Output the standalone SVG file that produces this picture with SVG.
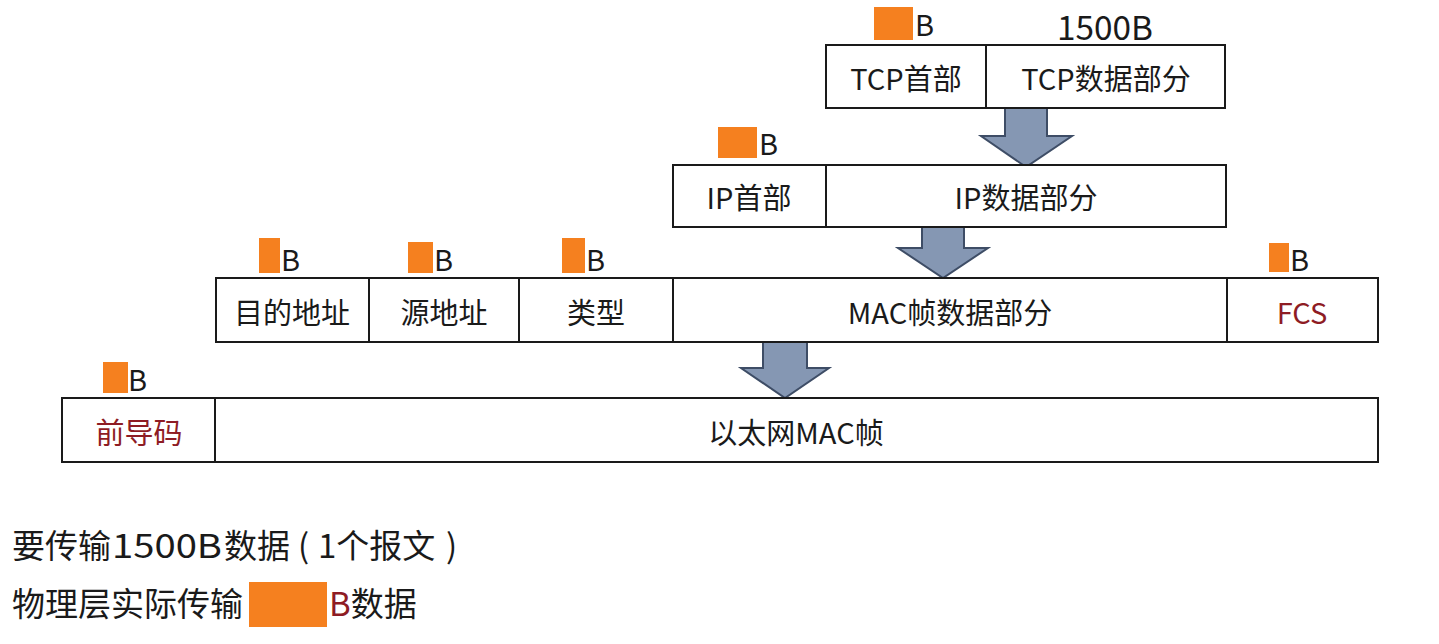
<svg xmlns="http://www.w3.org/2000/svg" width="1439" height="644" viewBox="0 0 1439 644">
<style>
.box{fill:#fff;stroke:#1a1a1a;stroke-width:2}
.div{stroke:#1a1a1a;stroke-width:2}
.t{font-family:"Noto Sans CJK SC","Noto Sans",sans-serif;font-size:29px;fill:#1a1a1a;text-anchor:middle;dominant-baseline:central}
.r{fill:#8e1c24}
.o{fill:#f5801f}
.b{font-family:"Noto Sans CJK SC","Noto Sans",sans-serif;font-size:29px;fill:#1a1a1a}
.arr{fill:#8597b3;stroke:#3e4d66;stroke-width:2}
.n{font-family:"Noto Sans CJK SC","Noto Sans",sans-serif;font-size:33px;fill:#1a1a1a}
</style>
<rect width="1439" height="644" fill="#fff"/>
<g id="connectors">
<path class="arr" d="M1005,108 L1047,108 L1047,136 L1072,136 L1026,167 L981,136 L1005,136 Z"/>
<path class="arr" d="M922,227 L964,227 L964,248 L988,248 L943,278 L898,248 L922,248 Z"/>
<path class="arr" d="M763,342 L807,342 L807,368 L829,368 L785,398 L741,368 L763,368 Z"/>
</g>
<g id="tcp">
<rect class="box" x="826" y="45" width="399" height="63"/>
<line class="div" x1="986" y1="45" x2="986" y2="108"/>
<text class="t" x="906" y="77">TCP首部</text>
<text class="t" x="1106" y="77">TCP数据部分</text>
<rect class="o" x="874" y="7" width="39" height="33"/>
<text class="b" x="915" y="36">B</text>
<text class="n" x="1057" y="40" font-size="31" textLength="96" lengthAdjust="spacingAndGlyphs">1500B</text>
</g>
<g id="ip">
<rect class="box" x="673" y="165" width="553" height="62"/>
<line class="div" x1="826" y1="165" x2="826" y2="227"/>
<text class="t" x="749" y="196">IP首部</text>
<text class="t" x="1026" y="196">IP数据部分</text>
<rect class="o" x="718" y="127" width="39" height="31"/>
<text class="b" x="759" y="155">B</text>
</g>
<g id="mac">
<rect class="box" x="216" y="278" width="1162" height="64"/>
<line class="div" x1="369" y1="278" x2="369" y2="342"/>
<line class="div" x1="519" y1="278" x2="519" y2="342"/>
<line class="div" x1="673" y1="278" x2="673" y2="342"/>
<line class="div" x1="1227" y1="278" x2="1227" y2="342"/>
<text class="t" x="292" y="311">目的地址</text>
<text class="t" x="444" y="311">源地址</text>
<text class="t" x="596" y="311">类型</text>
<text class="t" x="950" y="311">MAC帧数据部分</text>
<text class="t r" x="1302" y="311">FCS</text>
<rect class="o" x="259" y="238" width="21" height="35"/>
<text class="b" x="281" y="271">B</text>
<rect class="o" x="408" y="242" width="25" height="31"/>
<text class="b" x="434" y="271">B</text>
<rect class="o" x="562" y="238" width="23" height="35"/>
<text class="b" x="586" y="271">B</text>
<rect class="o" x="1269" y="243" width="20" height="29"/>
<text class="b" x="1290" y="271">B</text>
</g>
<g id="ether">
<rect class="box" x="62" y="398" width="1316" height="64"/>
<line class="div" x1="215" y1="398" x2="215" y2="462"/>
<text class="t r" x="139" y="431">前导码</text>
<text class="t" x="796" y="431">以太网MAC帧</text>
<rect class="o" x="103" y="362" width="25" height="31"/>
<text class="b" x="128" y="391">B</text>
</g>
<g id="notes">
<text class="n" y="558"><tspan x="12">要传输</tspan><tspan x="112" textLength="110" lengthAdjust="spacingAndGlyphs">1500B</tspan><tspan x="224">数据</tspan><tspan x="298">(</tspan><tspan x="318">1个报文</tspan><tspan x="446">)</tspan></text>
<text class="n" x="12" y="616">物理层实际传输</text>
<rect class="o" x="249" y="582" width="78" height="45"/>
<text class="n" x="329" y="616"><tspan fill="#8e1c24">B</tspan>数据</text>
</g>
</svg>
